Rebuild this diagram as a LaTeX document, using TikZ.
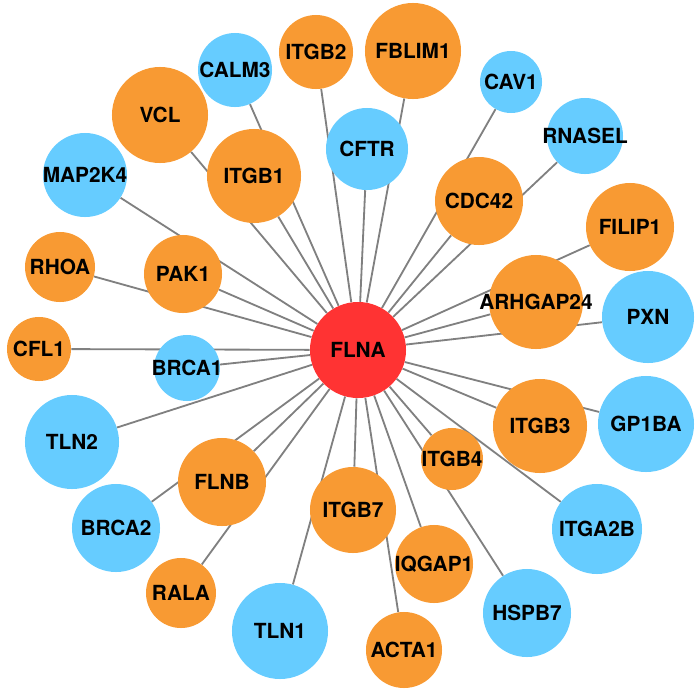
\documentclass[tikz,border=0pt]{standalone}
\usepackage{fontspec}
\setmainfont{TeX Gyre Heros}
\usetikzlibrary{backgrounds}

\definecolor{hubred}{RGB}{255,51,51}
\definecolor{geneorange}{RGB}{248,154,51}
\definecolor{geneblue}{RGB}{102,204,255}
\definecolor{edgegray}{RGB}{128,128,128}

% label box of no width, so that the circle keeps its size
\newcommand{\gene}[1]{\makebox[0pt]{#1}}

\begin{document}
\begin{tikzpicture}[x = 0.025cm, y = -0.025cm]
\tikzstyle{VertexStyle}=[shape = circle,
                         inner sep = 0pt,
                         font = \fontsize{14.8}{16}\selectfont\bfseries]
\tikzstyle{HubStyle}=[VertexStyle, fill = hubred]
\tikzstyle{OrangeStyle}=[VertexStyle, fill = geneorange]
\tikzstyle{BlueStyle}=[VertexStyle, fill = geneblue]
\tikzstyle{EdgeStyle}=[draw = edgegray, line width = 1.3pt]
\tikzset{nodesize/.style = {minimum size = #1*0.05cm}}
\useasboundingbox (0,0) rectangle (699,691);
\node[HubStyle, nodesize = 48] (flna) at (358,350) {\gene{FLNA}};
\node[OrangeStyle, nodesize = 37] (itgb2) at (316,52) {\gene{ITGB2}};
\node[OrangeStyle, nodesize = 48] (fblim1) at (413,51) {\gene{FBLIM1}};
\node[BlueStyle, nodesize = 37] (calm3) at (235,70) {\gene{CALM3}};
\node[BlueStyle, nodesize = 31] (cav1) at (511,82) {\gene{CAV1}};
\node[OrangeStyle, nodesize = 48] (vcl) at (160,115) {\gene{VCL}};
\node[BlueStyle, nodesize = 41] (cftr) at (367,149) {\gene{CFTR}};
\node[BlueStyle, nodesize = 38] (rnasel) at (585,136) {\gene{RNASEL}};
\node[BlueStyle, nodesize = 42] (map2k4) at (85,175) {\gene{MAP2K4}};
\node[OrangeStyle, nodesize = 47] (itgb1) at (254,176) {\gene{ITGB1}};
\node[OrangeStyle, nodesize = 44] (cdc42) at (479,201) {\gene{CDC42}};
\node[OrangeStyle, nodesize = 44] (filip1) at (630,227) {\gene{FILIP1}};
\node[OrangeStyle, nodesize = 35] (rhoa) at (60,267) {\gene{RHOA}};
\node[OrangeStyle, nodesize = 39] (pak1) at (183,274) {\gene{PAK1}};
\node[OrangeStyle, nodesize = 47] (arhgap24) at (536,302) {\gene{ARHGAP24}};
\node[BlueStyle, nodesize = 46] (pxn) at (648,317) {\gene{PXN}};
\node[OrangeStyle, nodesize = 32] (cfl1) at (39,349) {\gene{CFL1}};
\node[BlueStyle, nodesize = 33] (brca1) at (187,368) {\gene{BRCA1}};
\node[BlueStyle, nodesize = 47] (tln2) at (72,442) {\gene{TLN2}};
\node[OrangeStyle, nodesize = 47] (itgb3) at (540,426) {\gene{ITGB3}};
\node[BlueStyle, nodesize = 48] (gp1ba) at (646,424) {\gene{GP1BA}};
\node[OrangeStyle, nodesize = 31] (itgb4) at (452,459) {\gene{ITGB4}};
\node[OrangeStyle, nodesize = 44] (flnb) at (222,482) {\gene{FLNB}};
\node[OrangeStyle, nodesize = 43] (itgb7) at (353,510) {\gene{ITGB7}};
\node[BlueStyle, nodesize = 44] (brca2) at (116,528) {\gene{BRCA2}};
\node[BlueStyle, nodesize = 45] (itga2b) at (597,529) {\gene{ITGA2B}};
\node[OrangeStyle, nodesize = 39] (iqgap1) at (434,564) {\gene{IQGAP1}};
\node[OrangeStyle, nodesize = 35] (rala) at (181,593) {\gene{RALA}};
\node[BlueStyle, nodesize = 44] (hspb7) at (527,613) {\gene{HSPB7}};
\node[BlueStyle, nodesize = 48] (tln1) at (280,631) {\gene{TLN1}};
\node[OrangeStyle, nodesize = 38] (acta1) at (404,650) {\gene{ACTA1}};
\begin{scope}[on background layer]
\draw[EdgeStyle] (itgb2) -- (flna);
\draw[EdgeStyle] (fblim1) -- (flna);
\draw[EdgeStyle] (calm3) -- (flna);
\draw[EdgeStyle] (cav1) -- (flna);
\draw[EdgeStyle] (vcl) -- (flna);
\draw[EdgeStyle] (cftr) -- (flna);
\draw[EdgeStyle] (rnasel) -- (flna);
\draw[EdgeStyle] (map2k4) -- (flna);
\draw[EdgeStyle] (itgb1) -- (flna);
\draw[EdgeStyle] (cdc42) -- (flna);
\draw[EdgeStyle] (filip1) -- (flna);
\draw[EdgeStyle] (rhoa) -- (flna);
\draw[EdgeStyle] (pak1) -- (flna);
\draw[EdgeStyle] (arhgap24) -- (flna);
\draw[EdgeStyle] (pxn) -- (flna);
\draw[EdgeStyle] (cfl1) -- (flna);
\draw[EdgeStyle] (brca1) -- (flna);
\draw[EdgeStyle] (tln2) -- (flna);
\draw[EdgeStyle] (itgb3) -- (flna);
\draw[EdgeStyle] (gp1ba) -- (flna);
\draw[EdgeStyle] (itgb4) -- (flna);
\draw[EdgeStyle] (flnb) -- (flna);
\draw[EdgeStyle] (itgb7) -- (flna);
\draw[EdgeStyle] (brca2) -- (flna);
\draw[EdgeStyle] (itga2b) -- (flna);
\draw[EdgeStyle] (iqgap1) -- (flna);
\draw[EdgeStyle] (rala) -- (flna);
\draw[EdgeStyle] (hspb7) -- (flna);
\draw[EdgeStyle] (tln1) -- (flna);
\draw[EdgeStyle] (acta1) -- (flna);
\end{scope}
\end{tikzpicture}
\end{document}
